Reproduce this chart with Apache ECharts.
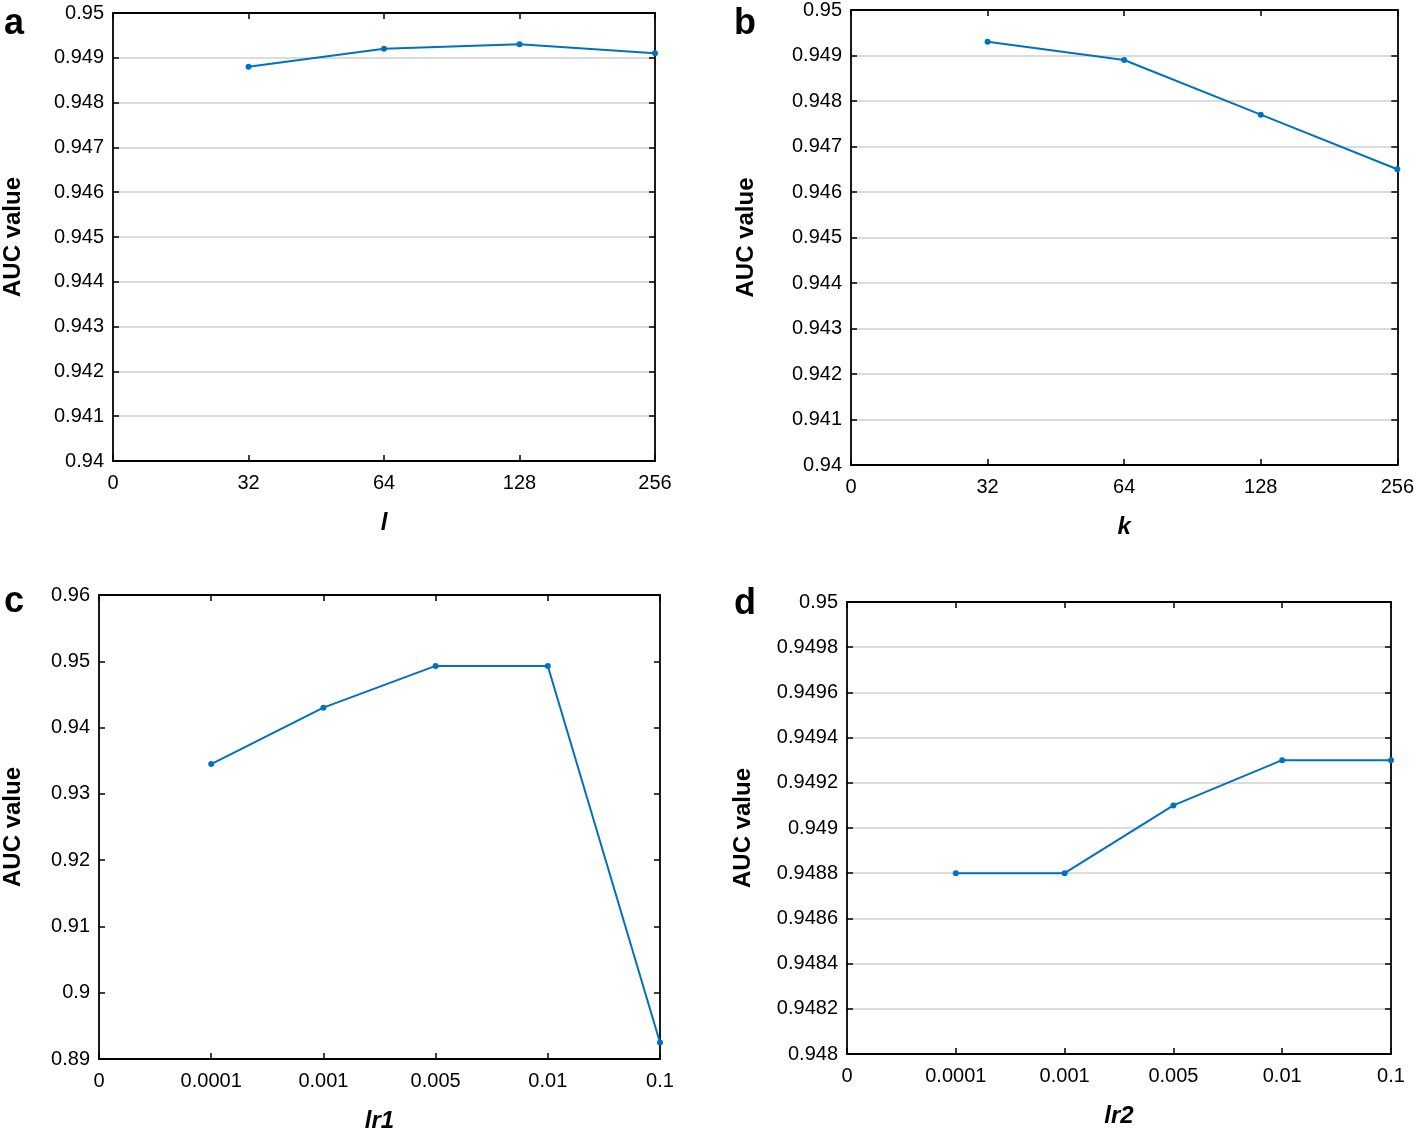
<!DOCTYPE html>
<html>
<head>
<meta charset="utf-8">
<script src="https://cdn.jsdelivr.net/npm/echarts@6/dist/echarts.min.js"></script>
<style>html,body{margin:0;padding:0;background:#fff}#c{width:1417px;height:1134px}</style>
</head>
<body>
<div id="c"></div>
<script>
// Data
const catsA = ['0', '32', '64', '128', '256'];
const valsA = [0.9488, 0.9492, 0.9493, 0.9491];
const catsB = ['0', '32', '64', '128', '256'];
const valsB = [0.9493, 0.9489, 0.9477, 0.9465];
const catsC = ['0', '0.0001', '0.001', '0.005', '0.01', '0.1'];
const valsC = [0.9345, 0.9430, 0.9493, 0.9493, 0.8925];
const catsD = ['0', '0.0001', '0.001', '0.005', '0.01', '0.1'];
const valsD = [0.9488, 0.9488, 0.9491, 0.9493, 0.9493];
const yA = {min: 0.94, max: 0.95, interval: 0.001};
const yB = {min: 0.94, max: 0.95, interval: 0.001};
const yC = {min: 0.89, max: 0.96, interval: 0.01};
const yD = {min: 0.948, max: 0.95, interval: 0.0002};
const xNames = ['l', 'k', 'lr1', 'lr2'];
const letters = ['a', 'b', 'c', 'd'];

const panels = [
  {cats: catsA, vals: valsA, y: yA, grid: {left: 112, top: 13, width: 543, height: 448}, gridLines: true, yGap: 88},
  {cats: catsB, vals: valsB, y: yB, grid: {left: 851, top: 10, width: 549, height: 455}, gridLines: true, yGap: 93},
  {cats: catsC, vals: valsC, y: yC, grid: {left: 98, top: 595, width: 562, height: 465}, gridLines: false, yGap: 74},
  {cats: catsD, vals: valsD, y: yD, grid: {left: 847, top: 602, width: 544, height: 452}, gridLines: true, yGap: 92}
];
const letterPos = [[4, 6], [734, 6], [4, 584], [734, 586]];

const font = 'Liberation Sans, Arial, sans-serif';
const color = '#0072BD';
const grids = [], xAxes = [], yAxes = [], series = [], graphics = [];
panels.forEach((p, i) => {
  grids.push(p.grid);
  const n = p.cats.length - 1;
  const tickStyle = {show: true, inside: true, length: 6, lineStyle: {color: '#000', width: 1.5}};
  const lineStyle = {show: true, onZero: false, lineStyle: {color: '#000', width: 1.8}};
  xAxes.push({
    type: 'value', gridIndex: i, min: 0, max: n, interval: 1,
    name: xNames[i], nameLocation: 'middle', nameGap: 50,
    nameTextStyle: {fontFamily: font, fontSize: 24, fontWeight: 'bold', fontStyle: 'italic', color: '#000'},
    axisLine: lineStyle,
    axisTick: tickStyle,
    axisLabel: {fontFamily: font, fontSize: 20, color: '#000', margin: 12, formatter: v => p.cats[Math.round(v)]},
    splitLine: {show: false}
  });
  xAxes.push({
    type: 'value', gridIndex: i, position: 'top', min: 0, max: n, interval: 1,
    axisLine: lineStyle,
    axisTick: tickStyle, axisLabel: {show: false}, splitLine: {show: false}
  });
  yAxes.push({
    type: 'value', gridIndex: i, min: p.y.min, max: p.y.max, interval: p.y.interval,
    name: 'AUC value', nameLocation: 'middle', nameGap: p.yGap, nameRotate: 90,
    nameTextStyle: {fontFamily: font, fontSize: 24, fontWeight: 'bold', color: '#000'},
    axisLine: lineStyle,
    axisTick: tickStyle,
    axisLabel: {fontFamily: font, fontSize: 20, color: '#000', margin: 9},
    splitLine: {show: p.gridLines, lineStyle: {color: '#dcdcdc', width: 2}}
  });
  yAxes.push({
    type: 'value', gridIndex: i, position: 'right', min: p.y.min, max: p.y.max, interval: p.y.interval,
    axisLine: lineStyle,
    axisTick: tickStyle, axisLabel: {show: false}, splitLine: {show: false}
  });
  series.push({
    type: 'line', xAxisIndex: 2 * i, yAxisIndex: 2 * i,
    data: p.vals.map((v, j) => [j + 1, v]),
    symbol: 'circle', symbolSize: 6,
    lineStyle: {color: color, width: 2}, itemStyle: {color: color},
    animation: false, clip: false
  });
  graphics.push({
    type: 'text', left: letterPos[i][0], top: letterPos[i][1],
    style: {text: letters[i], font: 'bold 36px ' + font, fill: '#000'}
  });
});

const chart = echarts.init(document.getElementById('c'));
chart.setOption({
  animation: false,
  backgroundColor: '#fff',
  grid: grids, xAxis: xAxes, yAxis: yAxes, series: series, graphic: graphics
});
</script>
</body>
</html>
